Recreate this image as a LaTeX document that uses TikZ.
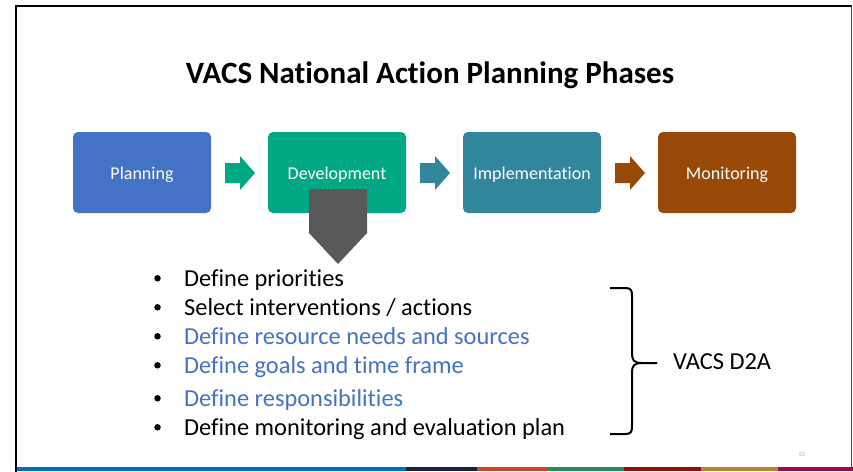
\documentclass[tikz,border=0pt]{standalone}
\usepackage{fontspec}
\setmainfont{Carlito}[RawFeature=-liga]
\definecolor{cPlan}{HTML}{4472C4}
\definecolor{cDev}{HTML}{00A983}
\definecolor{cImp}{HTML}{31869B}
\definecolor{cMon}{HTML}{984807}
\definecolor{cGrey}{HTML}{595959}
\definecolor{cBlue}{HTML}{4472C4}
\definecolor{bA}{HTML}{0070C0}
\definecolor{bB}{HTML}{172340}
\definecolor{bC}{HTML}{C9452D}
\definecolor{bD}{HTML}{2F8A5B}
\definecolor{bE}{HTML}{940E0E}
\definecolor{bF}{HTML}{B8862F}
\definecolor{bG}{HTML}{9E0A47}
\begin{document}
\begin{tikzpicture}[x=1pt,y=-1pt,
  phase/.style={rounded corners=5pt, minimum width=138pt, minimum height=81pt, inner sep=0pt},
  phasetext/.style={anchor=base, text=white, inner sep=0pt, font=\fontsize{18}{20}\selectfont},
  bul/.style={anchor=base west, inner sep=0pt, font=\fontsize{24.4}{26}\selectfont},
  dot/.style={circle, fill=black, inner sep=0pt, minimum size=6.5pt}]
\useasboundingbox (0,0) rectangle (853,471);
\fill[white] (0,0) rectangle (853,471);
% frame
\draw[black, line width=2.2pt] (16,472) -- (16,6) -- (852,6);
\draw[black!70, line width=1pt] (851.5,6) -- (851.5,467);
% bottom bar
\fill[bA] (17,466.5) rectangle (406,471);
\fill[bB] (406,466.5) rectangle (477,471);
\fill[bC] (477,466.5) rectangle (547,471);
\fill[bD] (547,466.5) rectangle (624,471);
\fill[bE] (624,466.5) rectangle (701,471);
\fill[bF] (701,466.5) rectangle (778,471);
\fill[bG] (778,466.5) rectangle (853,471);
\node[anchor=base, text=black!35, font=\fontsize{6}{7}\selectfont, inner sep=0pt] (pg) at (802,456) {52};
% title
\node[anchor=base, inner sep=0pt, font=\fontsize{31}{34}\selectfont\bfseries] (title) at (430,83) {VACS National Action Planning Phases};
% phases
\node[phase, fill=cPlan] (plan) at (142,172.5) {};
\node[phase, fill=cDev] (dev) at (337,172.5) {};
\node[phase, fill=cImp] (imp) at (532,172.5) {};
\node[phase, fill=cMon] (mon) at (727,172.5) {};
\node[phasetext] (tplan) at (142,179) {Planning};
\node[phasetext] (tdev) at (337,179) {Development};
\node[phasetext] (timp) at (532,179) {Implementation};
\node[phasetext] (tmon) at (727,179) {Monitoring};
% arrows between boxes
\foreach \x/\c in {225/cDev, 420/cImp, 615/cMon}{
  \fill[\c] (\x,163) -- (\x+15,163) -- (\x+15,156) -- (\x+30,173) -- (\x+15,190) -- (\x+15,183) -- (\x,183) -- cycle;
}
% grey down pentagon
\fill[cGrey] (309,189) -- (367,189) -- (367,233) -- (338,264) -- (309,233) -- cycle;
% bullets
\foreach \i/\y/\t/\c in {1/286/{Define priorities}/black, 2/315/{Select interventions / actions}/black, 3/344/{Define resource needs and sources}/cBlue, 4/373/{Define goals and time frame}/cBlue, 5/406/{Define responsibilities}/cBlue, 6/435/{Define monitoring and evaluation plan}/black}{
  \node[dot] (d\i) at (157.5,\y-7.7) {};
  \node[bul, text=\c] (b\i) at (184,\y) {\t};
}
% brace
\draw[black, line width=2pt, line join=round] (610,288) -- (625,288) .. controls (631,288) and (632,290) .. (632,296) -- (632,354) .. controls (632,360) and (634,363) .. (642,363) -- (657,363);
\draw[black, line width=2pt, line join=round] (642,363) .. controls (634,363) and (632,366) .. (632,372) -- (632,426) .. controls (632,432) and (631,434) .. (625,434) -- (610,434);
\node[anchor=base west, inner sep=0pt, font=\fontsize{24.4}{26}\selectfont] (d2a) at (673,369) {VACS D2A};
\end{tikzpicture}
\end{document}
